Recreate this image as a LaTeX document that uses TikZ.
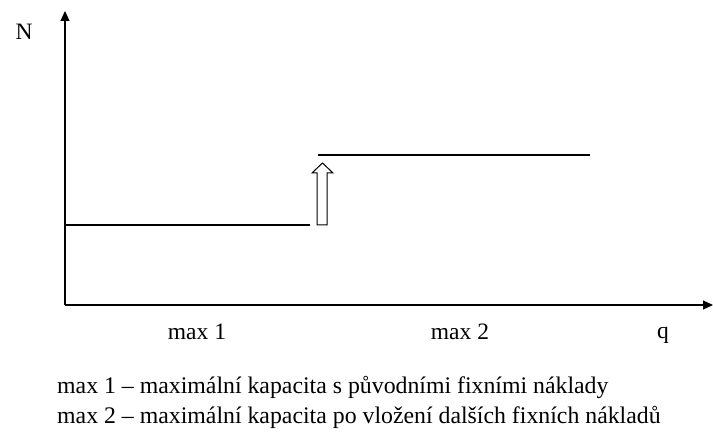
\documentclass[tikz,border=0pt]{standalone}
\usepackage{fontspec}
\setmainfont{Liberation Serif}
\usetikzlibrary{arrows.meta}
\begin{document}
\begin{tikzpicture}[x=1pt,y=-1pt,
  axis/.style={line width=1.2pt,-{Triangle[length=10pt,width=9pt]}},
  level/.style={line width=1.1pt},
  lbl/.style={font=\fontsize{23.5}{26}\selectfont,inner sep=0pt,anchor=base},
  legend/.style={font=\fontsize{23.8}{27}\selectfont,inner sep=0pt,anchor=base west}]
\useasboundingbox (0,0) rectangle (713,435);
% axes
\coordinate (o) at (65,305);
\coordinate (ytop) at (65,11);
\coordinate (xend) at (713,305);
\draw[axis] (o) -- (ytop);
\draw[axis] (o) -- (xend);
% capacity levels
\coordinate (l1a) at (65,225);
\coordinate (l1b) at (310,225);
\coordinate (l2a) at (318,155);
\coordinate (l2b) at (590,155);
\draw[level] (l1a) -- (l1b);
\draw[level] (l2a) -- (l2b);
% hollow block arrow for the step
\draw[line width=1pt,line join=miter]
  (317,225) -- (317,173) -- (312,173) -- (322.5,163) -- (333,173) -- (327,173) -- (327,225) -- cycle;
% labels
\node[lbl] (N) at (24,40) {N};
\node[lbl] (m1) at (197,340) {max 1};
\node[lbl] (m2) at (460,340) {max 2};
\node[lbl] (q) at (663,339) {q};
\node[legend] (leg1) at (57,394) {max 1 -- maximální kapacita s původními fixními náklady};
\node[legend] (leg2) at (57,424) {max 2 -- maximální kapacita po vložení dalších fixních nákladů};
\end{tikzpicture}
\end{document}
